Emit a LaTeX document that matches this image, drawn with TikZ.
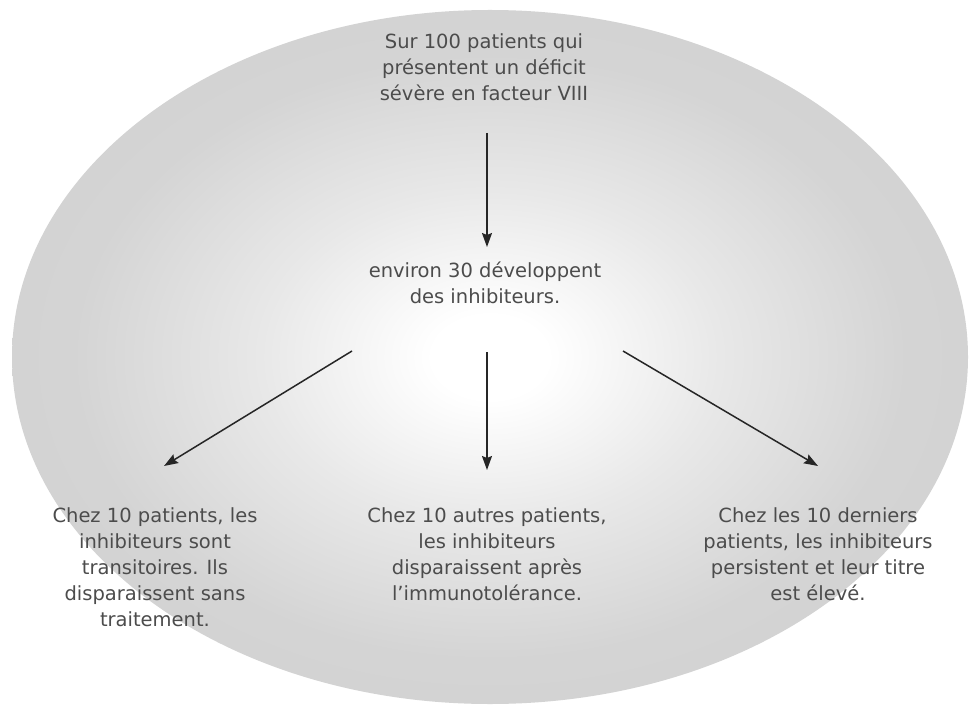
\documentclass[tikz,border=0pt]{standalone}
\usepackage{fontspec}
\setmainfont{DejaVu Sans}
\usetikzlibrary{arrows.meta}
\pgfdeclareradialshading{softgray}{\pgfpoint{0bp}{0bp}}{color(0bp)=(white); color(3bp)=(white); color(12bp)=(black!9); color(22bp)=(black!17); color(50bp)=(black!18)}
\tikzset{
  txt/.style={text=black!70, font=\fontsize{19.5}{26}\selectfont, align=center, inner sep=0pt},
  arr/.style={draw=black!85, line width=1.5pt, -{Stealth[length=14pt,width=10pt,inset=2pt]}}
}
\begin{document}
\begin{tikzpicture}[x=1pt,y=-1pt]
\useasboundingbox (0,0) rectangle (971,708);
\fill[white] (0,0) rectangle (971,708);
\shade[shading=softgray] (490,357) ellipse [x radius=478, y radius=347];

\node[txt] (top) at (484,67) {Sur 100 patients qui\\présentent un déficit\\sévère en facteur VIII};
\node[txt] (mid) at (485,283) {environ 30 développent\\des inhibiteurs.};
\node[txt] (left) at (155,567) {Chez 10 patients, les\\inhibiteurs sont\\transitoires. Ils\\disparaissent sans\\traitement.};
\node[txt] (center) at (487,554) {Chez 10 autres patients,\\les inhibiteurs\\disparaissent après\\l’immunotolérance.};
\node[txt] (right) at (818,554) {Chez les 10 derniers\\patients, les inhibiteurs\\persistent et leur titre\\est élevé.};

\coordinate (a1s) at (487,133);
\coordinate (a1e) at (487,247);
\coordinate (a2s) at (352,351);
\coordinate (a2e) at (164,466);
\coordinate (a3s) at (487,352);
\coordinate (a3e) at (487,470);
\coordinate (a4s) at (623,351);
\coordinate (a4e) at (818,466);

\draw[arr] (a1s) -- (a1e);
\draw[arr] (a2s) -- (a2e);
\draw[arr] (a3s) -- (a3e);
\draw[arr] (a4s) -- (a4e);
\end{tikzpicture}
\end{document}
